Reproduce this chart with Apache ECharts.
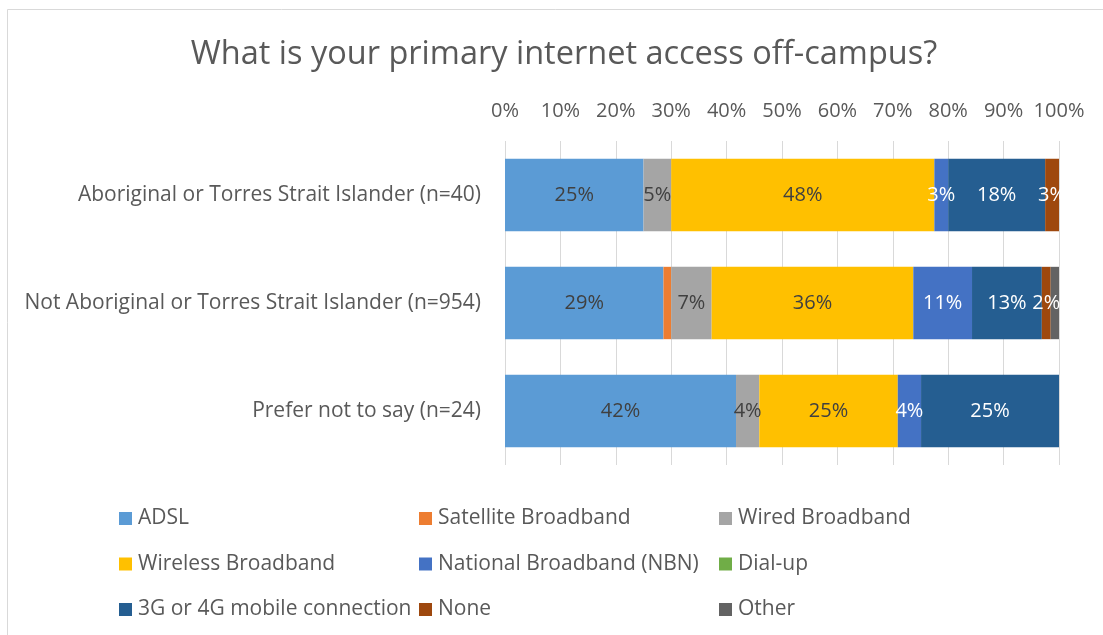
<!DOCTYPE html>
<html>
<head>
<meta charset="utf-8">
<script src="https://cdn.jsdelivr.net/npm/echarts@6/dist/echarts.min.js"></script>
<style>
  html, body { margin: 0; padding: 0; background: #ffffff; }
  #chart { width: 1103px; height: 635px; }
</style>
</head>
<body>
<div id="chart"></div>
<script>
// Respondent groups (top to bottom)
const categories = [
  'Aboriginal or Torres Strait Islander (n=40)',
  'Not Aboriginal or Torres Strait Islander (n=954)',
  'Prefer not to say (n=24)'
];

// Share of each group (%) by primary off-campus internet access
const adsl      = [25.0, 28.6, 41.7];
const satellite = [0,    1.4,  0];
const wired     = [5.0,  7.3,  4.2];
const wireless  = [47.5, 36.4, 25.0];
const nbn       = [2.5,  10.6, 4.2];
const dialup    = [0,    0,    0];
const mobile    = [17.5, 12.6, 25.0];
const none      = [2.5,  1.6,  0];
const other     = [0,    1.5,  0];

const xTicks = [0, 10, 20, 30, 40, 50, 60, 70, 80, 90, 100];

const FONT = '"Open Sans", "Noto Sans", sans-serif';
const DARK = '#404040';
const TEXT = '#595959';

// name, values, colour, label colour (null = no data labels)
const seriesDefs = [
  ['ADSL', adsl, '#5B9BD5', DARK],
  ['Satellite Broadband', satellite, '#ED7D31', null],
  ['Wired Broadband', wired, '#A5A5A5', DARK],
  ['Wireless Broadband', wireless, '#FFC000', DARK],
  ['National Broadband (NBN)', nbn, '#4472C4', '#ffffff'],
  ['Dial-up', dialup, '#70AD47', null],
  ['3G or 4G mobile connection', mobile, '#255E91', '#ffffff'],
  ['None', none, '#9E480E', '#ffffff'],
  ['Other', other, '#636363', null]
];

const series = seriesDefs.map(([name, values, color, labelColor]) => ({
  name: name,
  type: 'bar',
  stack: 'total',
  barWidth: '67%',
  data: values,
  itemStyle: { color: color },
  label: {
    show: labelColor !== null,
    position: 'inside',
    color: labelColor || DARK,
    fontFamily: FONT,
    fontSize: 20,
    formatter: p => (p.value > 0 ? Math.round(p.value) + '%' : '')
  },
  emphasis: { disabled: true }
}));

const legendBase = {
  orient: 'vertical',
  padding: 0,
  itemWidth: 13,
  itemHeight: 13,
  itemGap: 24.5,
  icon: 'rect',
  selectedMode: false,
  textStyle: { color: TEXT, fontFamily: FONT, fontSize: 21, lineHeight: 20, padding: [0, 0, 0, 1] }
};

const option = {
  animation: false,
  backgroundColor: '#ffffff',
  title: {
    text: 'What is your primary internet access off-campus?',
    left: 559,
    top: 33,
    textAlign: 'center',
    textStyle: { color: TEXT, fontFamily: FONT, fontSize: 32.5, fontWeight: 'normal' }
  },
  graphic: [{
    type: 'rect',
    shape: { x: 7.5, y: 9.5, width: 1120, height: 640 },
    style: { fill: 'none', stroke: '#D9D9D9', lineWidth: 1 },
    silent: true
  }],
  legend: [
    Object.assign({}, legendBase, { left: 119, top: 508, data: ['ADSL', 'Wireless Broadband', '3G or 4G mobile connection'] }),
    Object.assign({}, legendBase, { left: 419, top: 508, data: ['Satellite Broadband', 'National Broadband (NBN)', 'None'] }),
    Object.assign({}, legendBase, { left: 719, top: 508, data: ['Wired Broadband', 'Dial-up', 'Other'] })
  ],
  grid: { left: 505, right: 44, top: 141, height: 324, containLabel: false },
  xAxis: {
    type: 'value',
    position: 'top',
    min: xTicks[0],
    max: xTicks[xTicks.length - 1],
    interval: xTicks[1] - xTicks[0],
    axisLine: { show: false },
    axisTick: { show: false },
    axisLabel: {
      color: TEXT, fontFamily: FONT, fontSize: 20, margin: 20,
      formatter: v => v + '%'
    },
    splitLine: { show: true, lineStyle: { color: '#D9D9D9', width: 1 } }
  },
  yAxis: {
    type: 'category',
    inverse: true,
    data: categories,
    axisLine: { show: false },
    axisTick: { show: false },
    axisLabel: { color: TEXT, fontFamily: FONT, fontSize: 21, margin: 24 }
  },
  series: series
};

const chart = echarts.init(document.getElementById('chart'), null, { renderer: 'canvas' });
chart.setOption(option);
</script>
</body>
</html>
